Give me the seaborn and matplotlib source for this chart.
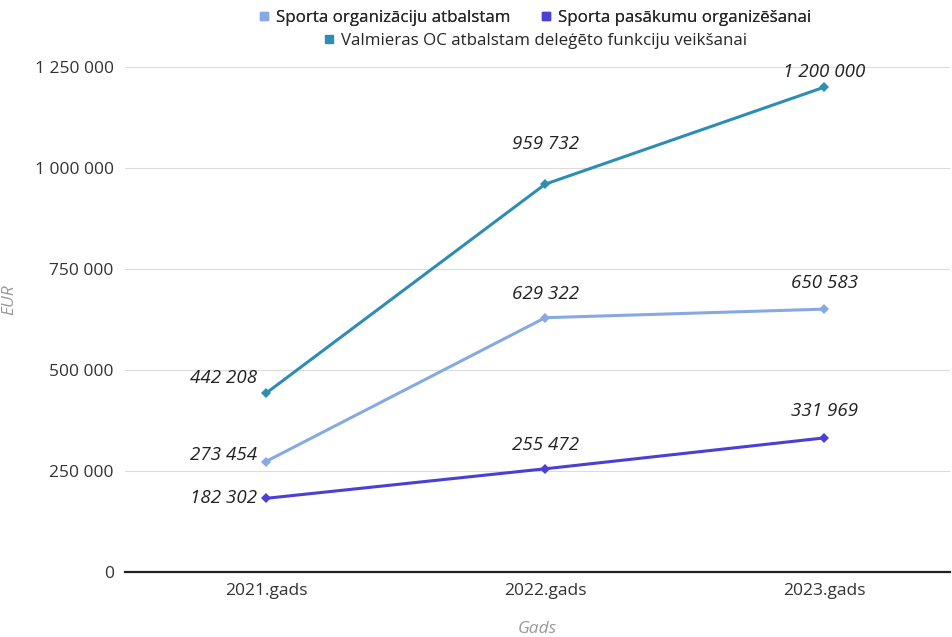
import pandas as pd
import matplotlib.pyplot as plt
import seaborn as sns
from matplotlib.lines import Line2D

# Data
years = ['2021.gads', '2022.gads', '2023.gads']
series_names = ['Sporta organizāciju atbalstam',
                'Sporta pasākumu organizēšanai',
                'Valmieras OC atbalstam deleģēto funkciju veikšanai']
org_support = [273454, 629322, 650583]
events = [182302, 255472, 331969]
valmiera_oc = [442208, 959732, 1200000]
colors = ['#87a9e3', '#4b3fd4', '#2e8db5']

df = pd.DataFrame({
    'Gads': years * 3,
    'EUR': org_support + events + valmiera_oc,
    'Series': [series_names[0]] * 3 + [series_names[1]] * 3 + [series_names[2]] * 3,
})

sns.set_style('white')
plt.rcParams['font.family'] = ['Open Sans', 'DejaVu Sans']

fig = plt.figure(figsize=(9.53, 6.37), dpi=100)
ax = fig.add_axes([0.131, 0.102, 0.866, 0.793])

sns.lineplot(data=df, x='Gads', y='EUR', hue='Series', palette=colors,
             marker='D', markersize=5, markeredgewidth=0, linewidth=2.2,
             legend=False, ax=ax, clip_on=False)

ax.set_xlim(-0.505, 2.45)
ax.set_ylim(0, 1250000)
ax.set_yticks([0, 250000, 500000, 750000, 1000000, 1250000])
ax.set_yticklabels(['0', '250 000', '500 000', '750 000', '1 000 000', '1 250 000'])
ax.grid(axis='y', color='#dcdcdc', linewidth=0.8)
ax.set_axisbelow(True)
for s in ['top', 'right', 'left']:
    ax.spines[s].set_visible(False)
ax.spines['bottom'].set_color('#222222')
ax.spines['bottom'].set_linewidth(1.6)
ax.tick_params(axis='both', length=0, labelsize=12.5, colors='#333333', pad=8)
ax.tick_params(axis='x', pad=8)

ax.set_xlabel('Gads', fontstyle='italic', color='#999999', fontsize=12.5, labelpad=16)
ax.set_ylabel('EUR', fontstyle='italic', color='#999999', fontsize=12.5)
ax.yaxis.set_label_coords(-0.13, 0.54)

def fmt(v):
    return f'{v:,}'.replace(',', ' ')

# data labels
offsets = {
    0: [(-6, 5), (-6, 0), (-6, 11)],
    1: [(0, 17), (0, 17), (0, 29)],
    2: [(0, 19), (0, 19), (0, 11)],
}
for si, vals in enumerate([org_support, events, valmiera_oc]):
    for xi, v in enumerate(vals):
        dx, dy = offsets[xi][si]
        ha = 'right' if xi == 0 else 'center'
        ax.annotate(fmt(v), (xi, v), xytext=(dx, dy), textcoords='offset points',
                    ha=ha, va='center', fontstyle='italic', fontsize=13.5,
                    color='#222222', annotation_clip=False)

# legend
handles = [Line2D([], [], marker='s', linestyle='none', color=c, markersize=6)
           for c in colors]
leg1 = fig.legend(handles[:2], series_names[:2], loc='center', ncol=2,
                  bbox_to_anchor=(0.56, 0.972), frameon=False, fontsize=12.2,
                  handletextpad=0.2, columnspacing=1.6, handlelength=1.0)
fig.legend(handles[2:], series_names[2:], loc='center',
           bbox_to_anchor=(0.56, 0.936), frameon=False, fontsize=12.2,
           handletextpad=0.2, handlelength=1.0)
fig.add_artist(leg1)

fig.savefig('out.png', dpi=100)
